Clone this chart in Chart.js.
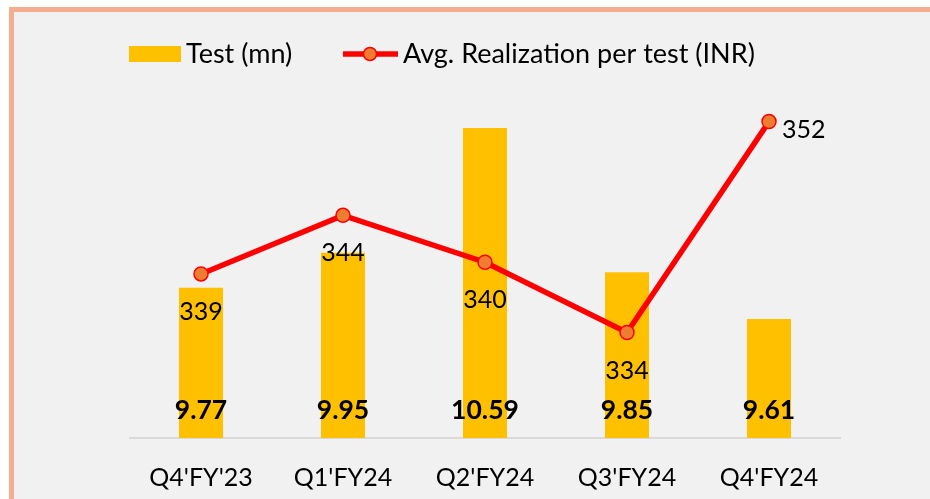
<!DOCTYPE html>
<html>
<head>
<meta charset="utf-8">
<script src="https://cdn.jsdelivr.net/npm/chart.js@4.4.1/dist/chart.umd.min.js"></script>
<style>
  html, body { margin: 0; padding: 0; background: #fff; }
  #frame {
    position: absolute; left: 9px; top: 7px; width: 921px; height: 492px;
    box-sizing: border-box; background: #f1f1f1;
    border-left: 5px solid #f4ad8f; border-top: 5px solid #f4ad8f;
  }
  #wrap { position: absolute; left: 0; top: 0; width: 930px; height: 499px; }
</style>
</head>
<body>
<div id="frame"></div>
<div id="wrap"><canvas id="testsChart"></canvas></div>
<script>
// Quarterly tests volume and average realization
const quarters = ["Q4'FY'23", "Q1'FY24", "Q2'FY24", "Q3'FY24", "Q4'FY24"];
const testsMn = [9.77, 9.95, 10.59, 9.85, 9.61];
const avgRealization = [339, 344, 340, 334, 352];

const FONT = 'Lato, "Open Sans", sans-serif';

// value labels + two-item legend (bar swatch, line with marker)
const labelsPlugin = {
  id: 'valueLabels',
  afterDatasetsDraw(chart) {
    const ctx = chart.ctx;
    const base = chart.chartArea.bottom;
    ctx.save();
    ctx.fillStyle = '#000';
    ctx.textBaseline = 'middle';

    const bars = chart.getDatasetMeta(1).data;
    ctx.font = 'bold 26.5px ' + FONT;
    ctx.textAlign = 'center';
    bars.forEach((bar, i) => {
      ctx.fillText(testsMn[i].toFixed(2), bar.x, base - 28);
    });

    const points = chart.getDatasetMeta(0).data;
    ctx.font = '25px ' + FONT;
    points.forEach((pt, i) => {
      if (i === points.length - 1) {
        ctx.textAlign = 'left';
        ctx.fillText(String(avgRealization[i]), pt.x + 13, pt.y + 8);
      } else {
        ctx.textAlign = 'center';
        ctx.fillText(String(avgRealization[i]), pt.x, pt.y + 38);
      }
    });
    ctx.restore();
  },
  afterDraw(chart) {
    const ctx = chart.ctx;
    const barDs = chart.data.datasets[1];
    const lineDs = chart.data.datasets[0];
    const y = 54;
    ctx.save();
    ctx.font = '27px ' + FONT;
    ctx.textAlign = 'left';
    ctx.textBaseline = 'middle';

    ctx.fillStyle = barDs.backgroundColor;
    ctx.fillRect(129, 46, 52, 16);
    ctx.fillStyle = '#000';
    ctx.fillText(barDs.label, 186, y);

    ctx.strokeStyle = lineDs.borderColor;
    ctx.lineWidth = lineDs.borderWidth;
    ctx.beginPath();
    ctx.moveTo(343, y);
    ctx.lineTo(398, y);
    ctx.stroke();
    ctx.beginPath();
    ctx.arc(370, y, 6.5, 0, Math.PI * 2);
    ctx.fillStyle = lineDs.pointBackgroundColor;
    ctx.fill();
    ctx.lineWidth = 1.5;
    ctx.strokeStyle = lineDs.pointBorderColor;
    ctx.stroke();
    ctx.fillStyle = '#000';
    ctx.fillText(lineDs.label, 403, y);
    ctx.restore();
  }
};

new Chart(document.getElementById('testsChart'), {
  type: 'bar',
  data: {
    labels: quarters,
    datasets: [
      {
        type: 'line',
        label: 'Avg. Realization per test (INR)',
        data: avgRealization,
        yAxisID: 'yRight',
        borderColor: '#ff0000',
        borderWidth: 5.5,
        pointRadius: 7,
        pointBackgroundColor: '#ed7d31',
        pointBorderColor: '#ff0000',
        pointBorderWidth: 1.5,
        tension: 0,
        order: 0
      },
      {
        label: 'Test (mn)',
        data: testsMn,
        yAxisID: 'y',
        backgroundColor: '#ffc000',
        barPercentage: 0.31,
        categoryPercentage: 1,
        order: 1
      }
    ]
  },
  options: {
    responsive: true,
    maintainAspectRatio: false,
    animation: false,
    layout: { padding: { left: 130, right: 90, top: 80, bottom: 9 } },
    plugins: { legend: { display: false }, tooltip: { enabled: false } },
    scales: {
      x: {
        grid: { display: false, drawTicks: false },
        border: { display: true, color: '#d9d9d9', width: 2 },
        ticks: { color: '#000', font: { family: FONT, size: 25 }, padding: 25 },
        afterFit(scale) { scale.height = 52; }
      },
      y: { display: false, min: 9.0, max: 10.836 },
      yRight: { display: false, position: 'right', min: 325, max: 355.55 }
    }
  },
  plugins: [labelsPlugin]
});
</script>
</body>
</html>
